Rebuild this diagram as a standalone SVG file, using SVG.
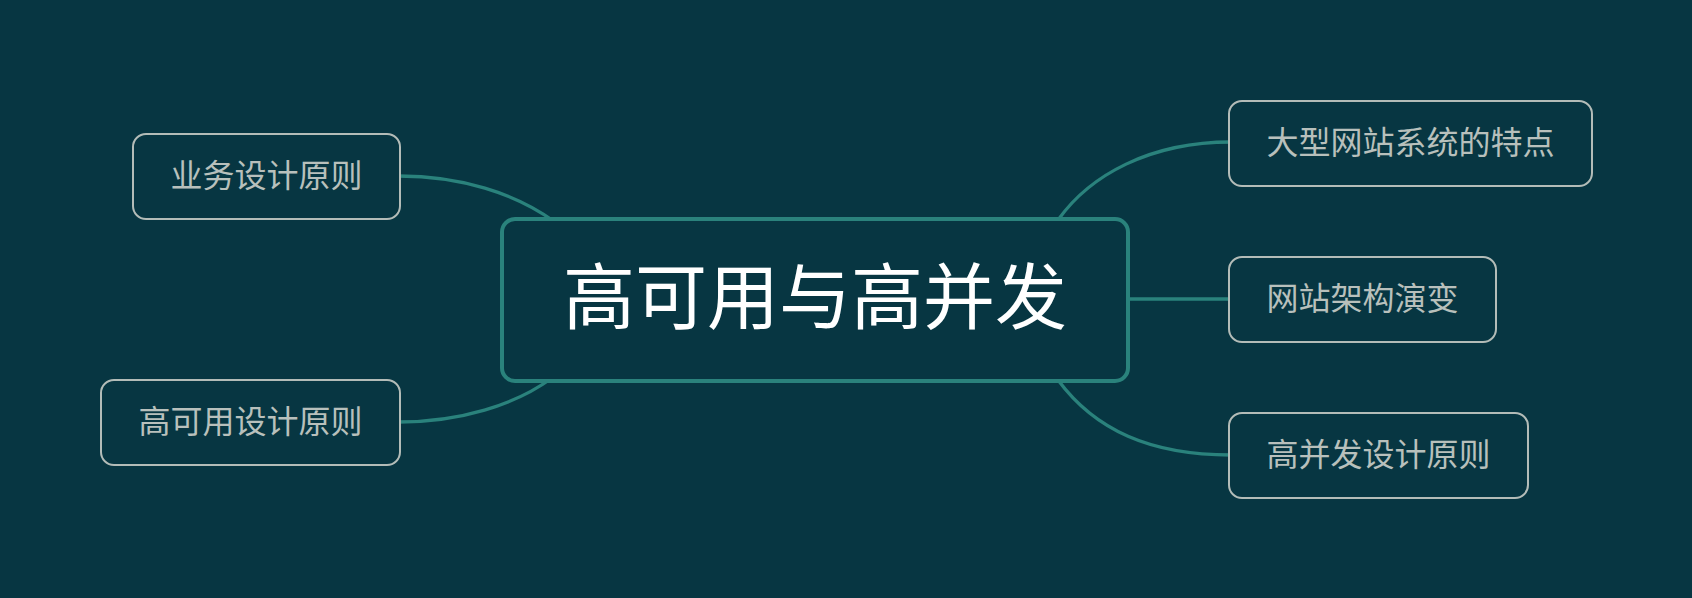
<svg xmlns="http://www.w3.org/2000/svg" width="1692" height="598" viewBox="0 0 1692 598">
  <style>
    .conn { fill: none; stroke: #2a827c; stroke-width: 3.3; stroke-linecap: round; }
    .child rect { fill: #073642; stroke: #b3bcb8; stroke-width: 2; }
    .child text { fill: #b8c0bc; font-family: "Noto Sans CJK SC", "Noto Sans", sans-serif; font-size: 32px; text-anchor: middle; dominant-baseline: central; }
    .root rect { fill: #073642; stroke: #2a827c; stroke-width: 4; }
    .root text { fill: #ffffff; font-family: "Noto Sans CJK SC", "Noto Sans", sans-serif; font-size: 72px; text-anchor: middle; dominant-baseline: central; }
  </style>
  <rect x="0" y="0" width="1692" height="598" fill="#073642"/>
  <g id="connectors">
    <path class="conn" d="M 399 176 C 460 176, 515 193, 555 222"/>
    <path class="conn" d="M 399 422 C 460 422, 515 405, 552 378"/>
    <path class="conn" d="M 1231 142 C 1150 142, 1090 175, 1058 220"/>
    <path class="conn" d="M 1128 299 L 1231 299"/>
    <path class="conn" d="M 1231 455 C 1150 455, 1095 430, 1058 380"/>
  </g>
  <g id="root" class="root">
    <rect x="502" y="219" width="626" height="162" rx="13"/>
    <text x="815" y="291">高可用与高并发</text>
  </g>
  <g id="n-business" class="child">
    <rect x="133" y="134" width="267" height="85" rx="13"/>
    <text x="266.5" y="173">业务设计原则</text>
  </g>
  <g id="n-ha" class="child">
    <rect x="101" y="380" width="299" height="85" rx="13"/>
    <text x="250.5" y="419">高可用设计原则</text>
  </g>
  <g id="n-features" class="child">
    <rect x="1229" y="101" width="363" height="85" rx="13"/>
    <text x="1410.5" y="140">大型网站系统的特点</text>
  </g>
  <g id="n-arch" class="child">
    <rect x="1229" y="257" width="267" height="85" rx="13"/>
    <text x="1362.5" y="296">网站架构演变</text>
  </g>
  <g id="n-hc" class="child">
    <rect x="1229" y="413" width="299" height="85" rx="13"/>
    <text x="1378.5" y="452">高并发设计原则</text>
  </g>
</svg>
